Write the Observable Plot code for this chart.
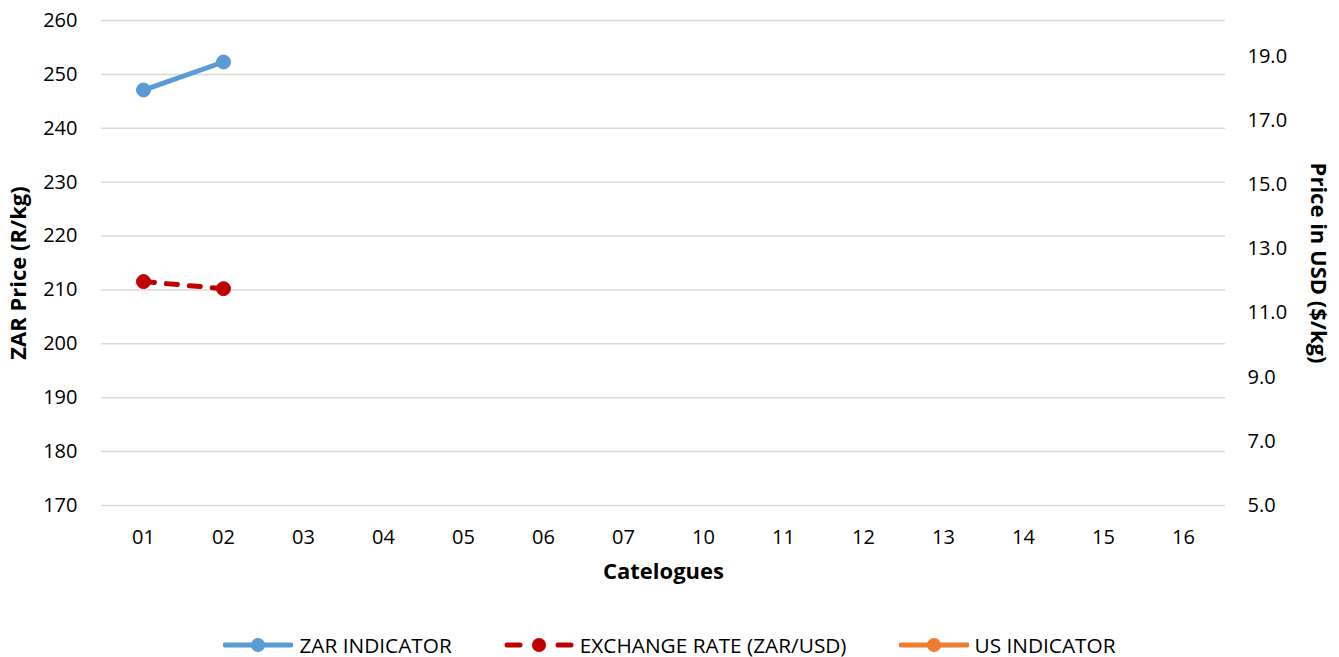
<!DOCTYPE html>
<html>
<head>
<meta charset="utf-8">
<script src="https://cdn.jsdelivr.net/npm/d3@7"></script>
<script src="https://cdn.jsdelivr.net/npm/@observablehq/plot@0.6"></script>
<style>
  html, body { margin: 0; padding: 0; background: #fff; }
  body { width: 1339px; height: 657px; overflow: hidden; font-family: "Open Sans", sans-serif; }
  #legend { height: 32px; display: flex; justify-content: center; align-items: center; padding-top: 4px; font-size: 20.8px; color: #000; }
  #legend .item { display: flex; align-items: center; }
  #legend .item svg { margin-right: 6px; }
  #legend .gap { width: 52px; }
</style>
</head>
<body>
<div id="chart"></div>
<div id="legend"></div>
<script>
// ---- data ----
const categories = ["01","02","03","04","05","06","07","10","11","12","13","14","15","16"];
const zarCats = ["01","02"];
const zarValues = [247.1, 252.3];           // ZAR Price (R/kg), left axis
const fxCats = ["01","02"];
const fxValues = [11.98, 11.76];            // plotted on right axis
const usCats = [];
const usValues = [];                        // US indicator (no data yet), right axis
const leftTicks = [170,180,190,200,210,220,230,240,250,260];
const rightTicks = [5,7,9,11,13,15,17,19];
const leftDomain = [170, 260];
const rightDomain = [5, 20.12];

const seriesNames = ["ZAR INDICATOR", "EXCHANGE RATE (ZAR/USD)", "US INDICATOR"];
const seriesColors = ["#5b9bd5", "#c00000", "#ed7d31"];

// map right-axis values into the left scale
const toLeft = d3.scaleLinear().domain(rightDomain).range(leftDomain);

const zar = zarCats.map((c, i) => ({cat: c, v: zarValues[i]}));
const fx = fxCats.map((c, i) => ({cat: c, v: toLeft(fxValues[i])}));
const us = usCats.map((c, i) => ({cat: c, v: toLeft(usValues[i])}));

const chart = Plot.plot({
  width: 1339,
  height: 625,
  marginTop: 20,
  marginBottom: 120,
  marginLeft: 101,
  marginRight: 114,
  style: {fontFamily: "Open Sans, sans-serif", fontSize: "20px", color: "#000", background: "#fff", overflow: "visible"},
  x: {type: "point", domain: categories, padding: 0.5, label: null},
  y: {domain: leftDomain, label: null},
  marks: [
    Plot.gridY(leftTicks, {stroke: "#d9d9d9", strokeOpacity: 1, strokeWidth: 1.5}),
    Plot.axisY(leftTicks, {tickSize: 0, tickPadding: 24, label: null, fontSize: 20}),
    Plot.axisY(rightTicks.map(toLeft), {anchor: "right", tickSize: 0, tickPadding: 22, label: null, fontSize: 20,
      tickFormat: d => toLeft.invert(d).toFixed(1)}),
    Plot.axisX({tickSize: 0, tickPadding: 24, label: null, fontSize: 20}),
    Plot.text(["ZAR Price (R/kg)"], {frameAnchor: "left", textAnchor: "middle", rotate: -90, dx: -83, dy: 10, fontWeight: "bold", fontSize: 22, fill: "#000"}),
    Plot.text(["Price in USD ($/kg)"], {frameAnchor: "right", textAnchor: "middle", rotate: 90, dx: 93, dy: 0, fontWeight: "bold", fontSize: 22, fill: "#000"}),
    Plot.text(["Catelogues"], {frameAnchor: "bottom", textAnchor: "middle", dy: 73, fontWeight: "bold", fontSize: 22, fill: "#000"}),
    Plot.line(zar, {x: "cat", y: "v", stroke: seriesColors[0], strokeWidth: 5, strokeLinecap: "round"}),
    Plot.dot(zar, {x: "cat", y: "v", r: 7, fill: seriesColors[0], stroke: seriesColors[0], strokeWidth: 1}),
    Plot.line(fx, {x: "cat", y: "v", stroke: seriesColors[1], strokeWidth: 5, strokeDasharray: "11,12", strokeLinecap: "round"}),
    Plot.dot(fx, {x: "cat", y: "v", r: 7, fill: seriesColors[1], stroke: seriesColors[1], strokeWidth: 1}),
    Plot.line(us, {x: "cat", y: "v", stroke: seriesColors[2], strokeWidth: 5}),
    Plot.dot(us, {x: "cat", y: "v", r: 7, fill: seriesColors[2]})
  ]
});
document.getElementById("chart").appendChild(chart);

// ---- legend ----
const legend = d3.select("#legend");
seriesNames.forEach((name, i) => {
  if (i > 0) legend.append("div").attr("class", "gap");
  const item = legend.append("div").attr("class", "item");
  const s = item.append("svg").attr("width", 70).attr("height", 20);
  if (i === 1) {
    s.append("line").attr("x1", 3).attr("x2", 16).attr("y1", 10).attr("y2", 10)
      .attr("stroke", seriesColors[i]).attr("stroke-width", 5).attr("stroke-linecap", "round");
    s.append("line").attr("x1", 54).attr("x2", 67).attr("y1", 10).attr("y2", 10)
      .attr("stroke", seriesColors[i]).attr("stroke-width", 5).attr("stroke-linecap", "round");
  } else {
    s.append("line").attr("x1", 2).attr("x2", 68).attr("y1", 10).attr("y2", 10)
      .attr("stroke", seriesColors[i]).attr("stroke-width", 5).attr("stroke-linecap", "round");
  }
  s.append("circle").attr("cx", 35).attr("cy", 10).attr("r", 7).attr("fill", seriesColors[i]);
  item.append("span").text(name);
});
</script>
</body>
</html>
